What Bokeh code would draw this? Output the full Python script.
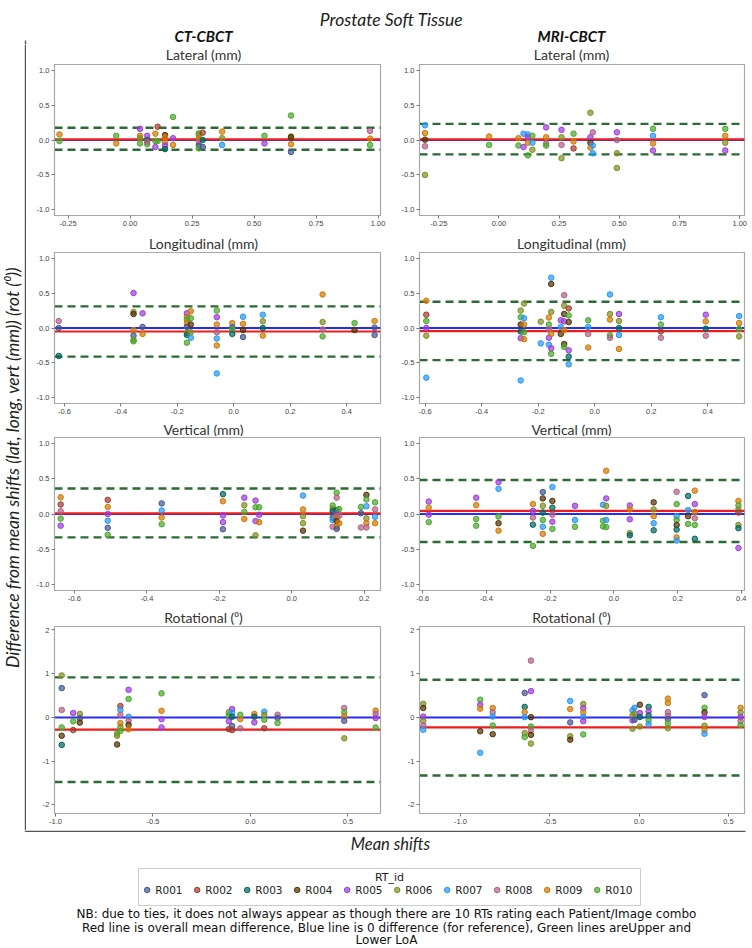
from bokeh.plotting import figure
from bokeh.layouts import column, row
from bokeh.models import ColumnDataSource, FixedTicker, NumeralTickFormatter, Range1d, Span
from bokeh.core.properties import value
from bokeh.embed import file_html
from bokeh.resources import INLINE

# ---------------------------------------------------------------- data
RT_IDS = ["R001", "R002", "R003", "R004", "R005", "R006", "R007", "R008", "R009", "R010"]
RT_COLORS = ["#445694", "#A23A2E", "#01665E", "#543005", "#9D3CDB",
             "#7F8E1F", "#2597FA", "#B26084", "#D17800", "#47A82A"]

MAIN_TITLE = "Prostate Soft Tissue"
COLUMN_TITLES = ["CT-CBCT", "MRI-CBCT"]
PANEL_TITLES = ["Lateral (mm)", "Longitudinal (mm)", "Vertical (mm)", "Rotational (\u2070)"]
Y_LABEL = "Difference from mean shifts (lat, long, vert (mm)) (rot (\u2070))"
X_LABEL = "Mean shifts"
LEGEND_TITLE = "RT_id"
NOTES = ["NB: due to ties, it does not always appear as though there are 10 RTs rating each Patient/Image combo",
         "Red line is overall mean difference, Blue line is 0 difference (for reference), Green lines areUpper and",
         "Lower LoA"]

# Lateral, CT-CBCT
LAT_CT_MEAN = [-0.285, -0.056, 0.040, 0.069, 0.102, 0.111, 0.141, 0.173, 0.277, 0.293, 0.371, 0.542, 0.649, 0.968]
LAT_CT_DIFF = [[0.08, -0.015], [0.06, -0.05], [0.16, 0.06, 0.025, -0.05], [0.06, 0.0, -0.06, -0.03],
               [0.09, -0.1, -0.015], [0.19, -0.015], [0.07, 0.04, -0.03, -0.08, -0.13], [0.33, 0.025, -0.07],
               [0.095, 0.07, 0.02, -0.03, -0.08, -0.12], [0.105, -0.1, 0.0], [0.12, 0.025, -0.07],
               [0.06, -0.05], [0.35, 0.05, 0.04, -0.06, -0.17], [0.13, 0.02, -0.07]]
LAT_CT_RT = [[9, 10], [10, 9], [5, 9, 6, 10], [5, 3, 10, 8], [9, 5, 10], [2, 10], [4, 9, 9, 5, 3], [10, 5, 9],
             [10, 6, 9, 8, 1, 10], [2, 1, 3], [9, 6, 7], [10, 5], [10, 6, 4, 9, 1], [8, 9, 10]]
LAT_CT_LINES = [0.01, -0.14, 0.175]          # mean difference, lower LoA, upper LoA

# Lateral, MRI-CBCT
LAT_MR_MEAN = [-0.307, -0.041, 0.081, 0.102, 0.12, 0.139, 0.196, 0.26, 0.31, 0.38, 0.39, 0.49, 0.64, 0.94]
LAT_MR_DIFF = [[0.21, 0.10, 0.005, -0.09, -0.5], [0.05, -0.07], [0.025, -0.08], [0.09, -0.1],
               [0.08, 0.04, -0.04, -0.22], [0.06, -0.04, -0.14], [0.18, 0.04, -0.05, -0.08],
               [0.145, 0.04, -0.07, -0.26], [0.09, -0.02, -0.12], [0.39, 0.04, -0.04, -0.11],
               [0.11, -0.08, -0.19], [0.11, 0.0, -0.19, -0.4], [0.16, 0.06, -0.05, -0.15], [0.16, 0.06, -0.04, -0.15]]
LAT_MR_RT = [[7, 9, 4, 8, 6], [9, 10], [9, 10], [7, 5], [7, 5, 9, 10], [10, 7, 6], [5, 9, 8, 10], [5, 6, 8, 6],
             [10, 9, 2], [6, 5, 4, 9], [8, 7, 7], [5, 8, 6, 6], [10, 7, 9, 5], [10, 9, 6, 5]]
LAT_MR_LINES = [0.01, -0.205, 0.23]

# Longitudinal, CT-CBCT
LONG_CT_MEAN = [-0.62, -0.355, -0.323, -0.166, -0.152, -0.06, -0.005, 0.033, 0.103, 0.315, 0.428, 0.499]
LONG_CT_DIFF = [[0.1, 0.0, -0.4], [0.5, 0.23, 0.2, -0.03, -0.11, -0.17, -0.19], [0.21, 0.015, -0.085],
                [0.21, 0.16, 0.12, 0.07, 0.015, -0.07, -0.1, -0.21], [0.24, 0.14, 0.05, -0.06, -0.14],
                [0.25, 0.155, 0.05, -0.06, -0.15, -0.25, -0.65], [0.07, 0.01, -0.02, -0.085],
                [0.16, 0.06, -0.03, -0.13], [0.19, 0.095, 0.0, -0.11], [0.48, 0.085, -0.02, -0.12],
                [0.07, -0.03], [0.1, 0.005, -0.1]]
LONG_CT_RT = [[8, 1, 3], [5, 6, 4, 9, 1, 6, 10], [5, 1, 9], [5, 9, 10, 9, 1, 6, 3, 10], [9, 10, 4, 6, 7],
              [10, 5, 9, 8, 7, 9, 7], [9, 1, 10, 3], [7, 9, 4, 1], [7, 6, 3, 9], [9, 6, 8, 10], [10, 4], [9, 1, 1]]
LONG_CT_LINES = [-0.05, -0.41, 0.31]

# Longitudinal, MRI-CBCT
LONG_MR_MEAN = [-0.596, -0.262, -0.25, -0.191, -0.162, -0.154, -0.12, -0.108, -0.092, -0.023, 0.054, 0.086,
                0.234, 0.393, 0.511]
LONG_MR_DIFF = [[0.39, 0.19, 0.1, 0.0, -0.11, -0.71], [0.25, 0.155, 0.05, -0.05, -0.145, -0.75],
                [0.35, 0.14, 0.05, -0.06, -0.16], [0.09, -0.22], [0.15, 0.05, -0.02, -0.14, -0.24],
                [0.72, 0.63, 0.23, -0.085, -0.29, -0.37], [0.11, 0.015, -0.085],
                [0.47, 0.32, 0.2, 0.095, -0.03, -0.23, -0.27], [0.28, 0.18, 0.085, -0.32, -0.41, -0.52],
                [0.11, 0.015, -0.085, -0.28], [0.48, 0.2, 0.12, -0.105, -0.14], [0.2, 0.1, 0.0, -0.1, -0.3],
                [0.155, 0.05, -0.05, -0.14], [0.19, 0.095, -0.01, -0.11], [0.17, 0.07, -0.015, -0.12]]
LONG_MR_RT = [[9, 2, 10, 5, 6, 7], [6, 10, 4, 3, 5, 7], [6, 7, 9, 10, 9], [6, 7], [9, 10, 8, 5, 7],
              [7, 4, 6, 9, 5, 10], [5, 7, 4], [8, 6, 4, 5, 9, 4, 10], [2, 10, 4, 5, 3, 7], [10, 7, 8, 9],
              [7, 6, 9, 10, 8], [5, 6, 3, 7, 9], [7, 10, 2, 8], [5, 9, 3, 8], [7, 9, 10, 6]]
LONG_MR_LINES = [-0.045, -0.46, 0.375]

# Vertical, CT-CBCT
VERT_CT_MEAN = [-0.638, -0.508, -0.359, -0.19, -0.131, -0.1, -0.09, 0.031, 0.113, 0.124, 0.131, 0.191, 0.206, 0.23]
VERT_CT_DIFF = [[0.235, 0.135, 0.04, -0.065, -0.165], [0.2, 0.1, 0.0, -0.095, -0.195, -0.295],
                [0.15, 0.05, -0.05, -0.145], [0.28, 0.18, -0.02, -0.115, -0.215], [0.23, 0.125, 0.03, -0.07],
                [0.19, 0.095, -0.1, -0.3], [0.095, -0.01, -0.115], [0.26, 0.065, -0.03, -0.13, -0.235],
                [0.12, 0.075, 0.04, -0.05, -0.085, -0.18], [0.3, 0.23, 0.055, 0.01, -0.04, -0.1, -0.18, -0.21],
                [0.07, -0.025, -0.13], [0.1, 0.01, -0.19], [0.27, 0.205, 0.11, -0.06, -0.13, -0.19],
                [0.165, 0.065, -0.04, -0.13]]
VERT_CT_RT = [[9, 2, 8, 10, 5], [2, 9, 5, 7, 1, 10], [1, 7, 9, 10], [3, 9, 5, 5, 1], [5, 6, 10, 9], [5, 10, 5, 6],
              [10, 5, 9], [7, 9, 6, 6, 4], [10, 6, 3, 1, 7, 8], [10, 8, 3, 5, 9, 4, 9, 1], [10, 8, 9], [10, 1, 8],
              [4, 10, 7, 6, 9, 8], [10, 8, 7, 9]]
VERT_CT_LINES = [0.01, -0.33, 0.36]

# Vertical, MRI-CBCT
VERT_MR_MEAN = [-0.581, -0.432, -0.362, -0.254, -0.223, -0.193, -0.122, -0.034, -0.024, 0.05, 0.125, 0.197,
                0.233, 0.254, 0.391]
VERT_MR_DIFF = [[0.175, 0.09, -0.01, -0.115], [0.23, 0.125, -0.07, -0.165], [0.45, 0.355, -0.035, -0.13, -0.235],
                [0.14, 0.045, -0.05, -0.15, -0.45], [0.31, 0.22, 0.115, 0.02, -0.085, -0.18, -0.28],
                [0.38, 0.185, 0.09, -0.01, -0.11, -0.21], [0.115, -0.085, -0.18], [0.13, -0.095, -0.175],
                [0.61, 0.22, 0.115, -0.085, -0.185], [0.12, 0.065, -0.075, -0.27, -0.3],
                [0.165, 0.065, -0.03, -0.13, -0.23], [0.315, 0.14, -0.03, -0.085, -0.155, -0.22, -0.33, -0.375],
                [0.255, 0.055, -0.03, -0.14], [0.33, 0.14, 0.03, -0.06, -0.155, -0.35],
                [0.185, 0.12, 0.065, 0.02, -0.155, -0.2, -0.48]]
VERT_MR_RT = [[5, 9, 5, 10], [5, 9, 10, 10], [5, 7, 10, 4, 9], [9, 5, 8, 3, 10], [1, 4, 6, 3, 10, 7, 9],
              [7, 4, 3, 8, 5, 10], [5, 7, 10], [7, 10, 10], [9, 5, 6, 7, 10], [5, 9, 5, 6, 3], [4, 6, 9, 7, 3],
              [8, 10, 7, 10, 4, 3, 9, 7], [3, 7, 4, 10], [9, 5, 9, 8, 10, 3], [9, 10, 6, 2, 6, 3, 5]]
VERT_MR_LINES = [0.045, -0.395, 0.48]

# Rotational, CT-CBCT
ROT_CT_MEAN = [-0.968, -0.909, -0.875, -0.684, -0.667, -0.625, -0.456, -0.111, -0.094, -0.052, 0.02, 0.071,
               0.139, 0.481, 0.642]
ROT_CT_DIFF = [[0.96, 0.67, 0.17, -0.23, -0.42, -0.63], [0.1, -0.09, -0.29], [0.08, -0.02, -0.12],
               [-0.37, -0.42, -0.62], [0.26, 0.17, 0.06, -0.13, -0.22, -0.31], [0.63, 0.42, 0.015, -0.08, -0.17, -0.27],
               [0.55, 0.15, -0.04, -0.23], [0.12, 0.04, -0.09, -0.27], [0.19, 0.11, 0.015, -0.2, -0.29],
               [0.06, -0.04, -0.25], [0.08, 0.015, -0.115], [0.13, 0.055, -0.055, -0.25], [0.06, -0.015, -0.13],
               [0.215, 0.115, 0.025, -0.08, -0.48], [0.155, 0.08, -0.015, -0.23]]
ROT_CT_RT = [[6, 1, 8, 10, 4, 3], [5, 10, 2], [6, 1, 4], [10, 6, 4], [2, 7, 8, 9, 6, 10], [5, 10, 7, 8, 4, 9],
             [10, 9, 5, 5], [6, 10, 5, 2], [5, 7, 3, 1, 2], [10, 9, 8], [9, 3, 5], [7, 6, 10, 2], [8, 1, 10],
             [8, 10, 9, 1, 6], [9, 8, 5, 10]]
ROT_CT_LINES = [-0.28, -1.48, 0.915]

# Rotational, MRI-CBCT
ROT_MR_MEAN = [-1.209, -0.89, -0.82, -0.641, -0.606, -0.386, -0.313, -0.037, -0.026, 0.004, 0.053, 0.161,
               0.366, 0.568]
ROT_MR_DIFF = [[0.31, 0.215, 0.02, -0.085, -0.185, -0.285], [0.405, 0.29, 0.2, -0.315, -0.81],
               [0.215, 0.115, 0.02, -0.185, -0.385], [0.56, 0.24, 0.12, 0.005, -0.36, -0.45],
               [1.3, 0.6, 0.005, -0.21, -0.3, -0.4, -0.6], [0.375, 0.19, -0.115, -0.43, -0.51],
               [0.305, 0.21, 0.11, 0.01, -0.085, -0.39], [0.16, 0.045, -0.07, -0.26], [0.22, 0.085, -0.055],
               [0.29, 0.1, 0.01, -0.21], [0.24, 0.14, 0.045, -0.07, -0.16],
               [0.43, 0.33, 0.12, 0.03, -0.04, -0.145, -0.25], [0.51, 0.22, 0.115, 0.01, -0.19, -0.285, -0.375],
               [0.22, 0.11, 0.01, -0.085, -0.175]]
ROT_MR_RT = [[6, 4, 5, 6, 8, 7], [10, 5, 9, 4, 7], [9, 8, 7, 10, 4], [1, 3, 9, 7, 6, 10], [8, 5, 4, 10, 8, 4, 6],
             [7, 9, 1, 6, 4], [6, 5, 9, 7, 5, 10], [7, 6, 5, 6], [7, 6, 1], [4, 5, 3, 6], [3, 5, 3, 10, 7],
             [9, 9, 8, 8, 1, 10, 6], [1, 10, 4, 5, 6, 9, 7], [9, 6, 5, 8, 10]]
ROT_MR_LINES = [-0.23, -1.33, 0.86]

# axis ticks
LAT_X_TICKS = [-0.25, 0.0, 0.25, 0.5, 0.75, 1.0]
LONG_X_TICKS = [-0.6, -0.4, -0.2, 0.0, 0.2, 0.4]
VERT_CT_X_TICKS = [-0.6, -0.4, -0.2, 0.0, 0.2]
VERT_MR_X_TICKS = [-0.6, -0.4, -0.2, 0.0, 0.2, 0.4]
ROT_X_TICKS = [-1.0, -0.5, 0.0, 0.5]
MM_Y_TICKS = [-1.0, -0.5, 0.0, 0.5, 1.0]
ROT_Y_TICKS = [-2, -1, 0, 1, 2]

# ---------------------------------------------------------------- style / geometry
TITLE_FONT = "Lato"
TEXT_FONT = "DejaVu Sans"
TICK_FONT = "Liberation Sans"
FRAME_GRAY = "#a8a8a8"

W_YLAB = 26
BL, FW_L, BR_L = 28, 326, 11
FW_R, BR_R = 325, 4
W_LEFT = BL + FW_L + BR_L
W_RIGHT = BL + FW_R + BR_R
W_GRID = W_LEFT + W_RIGHT
W_ALL = W_YLAB + W_GRID

X0 = 0
GRID_X0 = X0 + W_YLAB
LEFT_CENTER = 203
RIGHT_CENTER = 571


def deco_fig(width, height, xr, yr):
    p = figure(width=width, height=height, x_range=Range1d(*xr), y_range=Range1d(*yr),
               output_backend="svg", toolbar_location=None, min_border=0)
    p.axis.visible = False
    p.grid.visible = False
    p.outline_line_color = None
    return p


def panel(mean, diff, rts, lines, xr, yr, xticks, yticks, xfmt, yfmt, left, frame_h, bottom):
    xs, ys, cols, names = [], [], [], []
    for m, ds, rs in zip(mean, diff, rts):
        for d, r in zip(ds, rs):
            xs.append(m)
            ys.append(d)
            cols.append(RT_COLORS[r - 1])
            names.append(RT_IDS[r - 1])
    fw = FW_L if left else FW_R
    br = BR_L if left else BR_R
    p = figure(width=BL + fw + br, height=1 + frame_h + bottom,
               x_range=Range1d(*xr), y_range=Range1d(*yr),
               output_backend="svg", toolbar_location=None,
               min_border_left=BL, min_border_right=br, min_border_top=1, min_border_bottom=bottom)
    p.grid.visible = False
    p.outline_line_color = FRAME_GRAY
    p.outline_line_width = 1.2
    for ax in (p.xaxis[0], p.yaxis[0]):
        ax.axis_line_color = FRAME_GRAY
        ax.major_tick_line_color = "#777777"
        ax.major_tick_out = 3
        ax.major_tick_in = 0
        ax.minor_tick_line_color = None
        ax.major_label_text_font = TICK_FONT
        ax.major_label_text_font_size = "7.5px"
        ax.major_label_text_color = "#444444"
        ax.major_label_standoff = 2
    p.xaxis.ticker = FixedTicker(ticks=xticks)
    p.yaxis.ticker = FixedTicker(ticks=yticks)
    p.xaxis.formatter = NumeralTickFormatter(format=xfmt)
    p.yaxis.formatter = NumeralTickFormatter(format=yfmt)

    mean_d, lo, hi = lines
    p.add_layout(Span(location=0, dimension="width", line_color="#2b2bf0", line_width=2, level="underlay"))
    p.add_layout(Span(location=mean_d, dimension="width", line_color="#ee1c1c", line_width=2.2, level="underlay"))
    for loc in (lo, hi):
        p.add_layout(Span(location=loc, dimension="width", line_color="#2c6b34", line_width=2.4,
                          line_dash="8 5", level="underlay"))
    src = ColumnDataSource(dict(x=xs, y=ys, c=cols, rt=names))
    p.scatter("x", "y", source=src, size=5.5, fill_color="c", fill_alpha=0.7,
              line_color="c", line_width=1)
    return p


# ---------------------------------------------------------------- header
Y_HDR = 44
hdr = deco_fig(W_ALL, Y_HDR, (X0, X0 + W_ALL), (X0 + Y_HDR, X0))
hdr.text(x=[391], y=[19], text=[MAIN_TITLE], text_align="center", text_baseline="middle",
         text_font=value(TITLE_FONT), text_font_style="italic", text_font_size="17.5px", text_color="#222222")
hdr.text(x=[LEFT_CENTER, RIGHT_CENTER], y=[35.5, 35.5], text=COLUMN_TITLES, text_align="center",
         text_baseline="middle", text_font=value(TITLE_FONT), text_font_style="bold italic",
         text_font_size="15px", text_color="#111111")
hdr.segment(x0=[W_YLAB - 1], y0=[40], x1=[W_YLAB - 1], y1=[Y_HDR], line_color="#555555", line_width=1.4)

# ---------------------------------------------------------------- grid
STRIP_H = [19, 18, 16, 17]
FRAME_H = [151, 151, 153, 187]
BOTTOM_B = [18, 17, 18, 17]
MM_YR = (-1.08, 1.08)
ROT_YR = (-2.2, 2.08)

panels = [
    (panel(LAT_CT_MEAN, LAT_CT_DIFF, LAT_CT_RT, LAT_CT_LINES, (-0.305, 1.01), MM_YR, LAT_X_TICKS, MM_Y_TICKS,
           "0.00", "0.0", True, FRAME_H[0], BOTTOM_B[0]),
     panel(LAT_MR_MEAN, LAT_MR_DIFF, LAT_MR_RT, LAT_MR_LINES, (-0.33, 1.02), MM_YR, LAT_X_TICKS, MM_Y_TICKS,
           "0.00", "0.0", False, FRAME_H[0], BOTTOM_B[0])),
    (panel(LONG_CT_MEAN, LONG_CT_DIFF, LONG_CT_RT, LONG_CT_LINES, (-0.635, 0.52), MM_YR, LONG_X_TICKS, MM_Y_TICKS,
           "0.0", "0.0", True, FRAME_H[1], BOTTOM_B[1]),
     panel(LONG_MR_MEAN, LONG_MR_DIFF, LONG_MR_RT, LONG_MR_LINES, (-0.62, 0.53), MM_YR, LONG_X_TICKS, MM_Y_TICKS,
           "0.0", "0.0", False, FRAME_H[1], BOTTOM_B[1])),
    (panel(VERT_CT_MEAN, VERT_CT_DIFF, VERT_CT_RT, VERT_CT_LINES, (-0.655, 0.245), MM_YR, VERT_CT_X_TICKS,
           MM_Y_TICKS, "0.0", "0.0", True, FRAME_H[2], BOTTOM_B[2]),
     panel(VERT_MR_MEAN, VERT_MR_DIFF, VERT_MR_RT, VERT_MR_LINES, (-0.61, 0.41), MM_YR, VERT_MR_X_TICKS,
           MM_Y_TICKS, "0.0", "0.0", False, FRAME_H[2], BOTTOM_B[2])),
    (panel(ROT_CT_MEAN, ROT_CT_DIFF, ROT_CT_RT, ROT_CT_LINES, (-1.005, 0.667), ROT_YR, ROT_X_TICKS, ROT_Y_TICKS,
           "0.0", "0", True, FRAME_H[3], BOTTOM_B[3]),
     panel(ROT_MR_MEAN, ROT_MR_DIFF, ROT_MR_RT, ROT_MR_LINES, (-1.23, 0.59), ROT_YR, ROT_X_TICKS, ROT_Y_TICKS,
           "0.0", "0", False, FRAME_H[3], BOTTOM_B[3])),
]

grid_children = []
y_cursor = X0 + Y_HDR
for i, (pl, pr) in enumerate(panels):
    s = deco_fig(W_GRID, STRIP_H[i], (GRID_X0, GRID_X0 + W_GRID), (y_cursor + STRIP_H[i], y_cursor))
    s.text(x=[LEFT_CENTER, RIGHT_CENTER], y=[y_cursor + STRIP_H[i] / 2.0 + 0.5] * 2,
           text=[PANEL_TITLES[i]] * 2, text_align="center", text_baseline="middle",
           text_font=value(TITLE_FONT), text_font_size="14px", text_color="#333333")
    grid_children.append(s)
    grid_children.append(row(pl, pr))
    y_cursor += STRIP_H[i] + 1 + FRAME_H[i] + BOTTOM_B[i]

GRID_BOTTOM = y_cursor
GRID_H = GRID_BOTTOM - (X0 + Y_HDR)
grid = column(*grid_children)

# y label strip with the frame line
ylab = deco_fig(W_YLAB, GRID_H, (X0, X0 + W_YLAB), (GRID_BOTTOM, X0 + Y_HDR))
ylab.add_layout(Span(location=X0 + W_YLAB - 1, dimension="height", line_color="#555555", line_width=1.4))
ylab.text(x=[12], y=[467], text=[Y_LABEL], angle=1.5707963, text_align="center", text_baseline="middle",
          text_font=value(TITLE_FONT), text_font_style="italic", text_font_size="17.5px", text_color="#222222")

# ---------------------------------------------------------------- footer
FOOT_H = 948 - Y_HDR - GRID_H
F0 = GRID_BOTTOM
foot = deco_fig(W_ALL, FOOT_H, (X0, X0 + W_ALL), (F0 + FOOT_H, F0))
foot.segment(x0=[X0 + W_YLAB - 1.7], y0=[F0 + 0.8], x1=[745], y1=[F0 + 0.8], line_color="#555555", line_width=1.4)
foot.text(x=[390], y=[F0 + 13], text=[X_LABEL], text_align="center", text_baseline="middle",
          text_font=value(TITLE_FONT), text_font_style="italic", text_font_size="16.5px", text_color="#222222")
foot.quad(left=[138], right=[640], top=[F0 + 38], bottom=[F0 + 75], fill_color=None,
          line_color="#cccccc", line_width=1)
foot.text(x=[389], y=[F0 + 46.5], text=[LEGEND_TITLE], text_align="center", text_baseline="middle",
          text_font=value(TEXT_FONT), text_font_size="11px", text_color="#222222")
lx = [146.7 + 50 * i for i in range(len(RT_IDS))]
foot.scatter(x=lx, y=[F0 + 59.5] * len(RT_IDS), size=5.5, fill_color=RT_COLORS, fill_alpha=0.7,
             line_color=RT_COLORS, line_width=1)
foot.text(x=[v + 8 for v in lx], y=[F0 + 59.5] * len(RT_IDS), text=RT_IDS, text_align="left",
          text_baseline="middle", text_font=value(TEXT_FONT), text_font_size="10.5px", text_color="#222222")
foot.text(x=[386] * 3, y=[F0 + 83, F0 + 97, F0 + 109.5], text=NOTES, text_align="center",
          text_baseline="middle", text_font=value(TEXT_FONT), text_font_size="12px", text_color="#111111")

layout = column(hdr, row(ylab, grid), foot)

open("out.html", "w").write(file_html(layout, INLINE))
